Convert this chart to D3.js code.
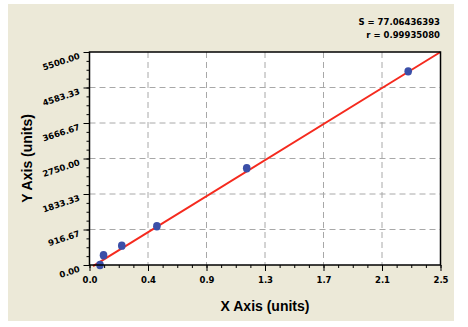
<!DOCTYPE html>
<html>
<head>
<meta charset="utf-8">
<script src="https://cdn.jsdelivr.net/npm/d3@7"></script>
<style>
body { margin:0; background:#fff; }
svg { display:block; font-family:"Liberation Sans", Arial, sans-serif; }
</style>
</head>
<body>
<div id="chart"></div>
<script>
// standard curve points
var xVals = [0.075, 0.10, 0.23, 0.48, 1.12, 2.27];
var yVals = [0, 250, 500, 1000, 2500, 5000];
// fitted line ends
var fitX = [0.025, 2.5];
var fitY = [-30, 5500];
var xTickLabels = ["0.0", "0.4", "0.9", "1.3", "1.7", "2.1", "2.5"];
var yTickLabels = ["0.00", "916.67", "1833.33", "2750.00", "3666.67", "4583.33", "5500.00"];
var statLines = ["S = 77.06436393", "r = 0.99935080"];

var W = 468, H = 327;
var pLeft = 89.5, pRight = 440.5, pTop = 52, pBottom = 265;
var tickFont = "DejaVu Sans, Verdana, sans-serif";

var svg = d3.select("#chart").append("svg")
	.attr("width", W).attr("height", H);

svg.append("rect").attr("x", 8).attr("y", 4).attr("width", 446).attr("height", 317)
	.attr("fill", "#ece9d8");

var x = d3.scaleLinear().domain([0, 2.5]).range([pLeft, pRight]);
var y = d3.scaleLinear().domain([0, 5500]).range([pBottom, pTop]);

svg.append("rect").attr("x", pLeft).attr("y", pTop)
	.attr("width", pRight - pLeft).attr("height", pBottom - pTop)
	.attr("fill", "#fff");

var xMajor = d3.range(7).map(function(i) { return 2.5 * i / 6; });
var yMajor = d3.range(7).map(function(i) { return 5500 * i / 6; });
var xMinor = d3.range(25).map(function(i) { return 2.5 * i / 24; });
var yMinor = d3.range(25).map(function(i) { return 5500 * i / 24; });

// grid
svg.append("g").selectAll("line")
	.data(xMajor.slice(1, 6)).enter().append("line")
	.attr("x1", function(d) { return x(d); }).attr("x2", function(d) { return x(d); })
	.attr("y1", pTop).attr("y2", pBottom)
	.attr("stroke", "#a8a8a8").attr("stroke-dasharray", "6,4");
svg.append("g").selectAll("line")
	.data(yMajor.slice(1, 6)).enter().append("line")
	.attr("y1", function(d) { return y(d); }).attr("y2", function(d) { return y(d); })
	.attr("x1", pLeft).attr("x2", pRight)
	.attr("stroke", "#a8a8a8").attr("stroke-dasharray", "6,4");

// axes ticks
var xAxis = svg.append("g").attr("transform", "translate(0," + pBottom + ")")
	.call(d3.axisBottom(x).tickValues(xMinor).tickSize(3).tickFormat(""));
xAxis.select(".domain").remove();
svg.append("g").attr("transform", "translate(0," + pBottom + ")")
	.call(d3.axisBottom(x).tickValues(xMajor).tickSize(6).tickFormat(function(d, i) { return xTickLabels[i]; }))
	.call(function(g) {
		g.select(".domain").remove();
		g.selectAll("text").attr("dy", 0).attr("y", 18)
			.style("font-size", "8.5px").style("font-weight", "bold")
			.style("font-family", tickFont).attr("fill", "#000");
	});

var yAxis = svg.append("g").attr("transform", "translate(" + pLeft + ",0)")
	.call(d3.axisLeft(y).tickValues(yMinor).tickSize(3).tickFormat(""));
yAxis.select(".domain").remove();
svg.append("g").attr("transform", "translate(" + pLeft + ",0)")
	.call(d3.axisLeft(y).tickValues(yMajor).tickSize(6).tickFormat(function(d, i) { return yTickLabels[i]; }))
	.call(function(g) {
		g.select(".domain").remove();
		g.selectAll("text")
			.attr("x", null).attr("dy", null)
			.attr("text-anchor", "end")
			.attr("transform", "translate(-9,6) rotate(-18)")
			.style("font-size", "8.5px").style("font-weight", "bold")
			.style("font-family", tickFont).attr("fill", "#000");
	});

// fitted line, clipped to plot
svg.append("clipPath").attr("id", "clip").append("rect")
	.attr("x", pLeft).attr("y", pTop - 1).attr("width", pRight - pLeft).attr("height", pBottom - pTop + 3);
svg.append("line")
	.attr("clip-path", "url(#clip)")
	.attr("x1", x(fitX[0])).attr("y1", y(fitY[0]))
	.attr("x2", x(fitX[1])).attr("y2", y(fitY[1]))
	.attr("stroke", "#f52a1e").attr("stroke-width", 2);

// points
svg.append("g").selectAll("ellipse")
	.data(xVals).enter().append("ellipse")
	.attr("cx", function(d) { return x(d); })
	.attr("cy", function(d, i) { return y(yVals[i]); })
	.attr("rx", 3.8).attr("ry", 4.2)
	.attr("fill", "#3b4fa8");

// plot border
svg.append("rect").attr("x", pLeft).attr("y", pTop)
	.attr("width", pRight - pLeft).attr("height", pBottom - pTop)
	.attr("fill", "none").attr("stroke", "#000").attr("stroke-width", 1.5);

// stats
svg.append("g").selectAll("text")
	.data(statLines).enter().append("text")
	.attr("x", 440).attr("y", function(d, i) { return 25 + i * 12.5; })
	.attr("text-anchor", "end")
	.style("font-family", tickFont)
	.style("font-size", "8.5px").style("font-weight", "bold")
	.text(function(d) { return d; });

// axis titles
svg.append("text").attr("x", (pLeft + pRight) / 2).attr("y", 311)
	.attr("text-anchor", "middle")
	.style("font-size", "14px").style("font-weight", "bold")
	.text("X Axis (units)");
svg.append("text")
	.attr("transform", "translate(32," + ((pTop + pBottom) / 2) + ") rotate(-90)")
	.attr("text-anchor", "middle")
	.style("font-size", "14px").style("font-weight", "bold")
	.text("Y Axis (units)");
</script>
</body>
</html>
